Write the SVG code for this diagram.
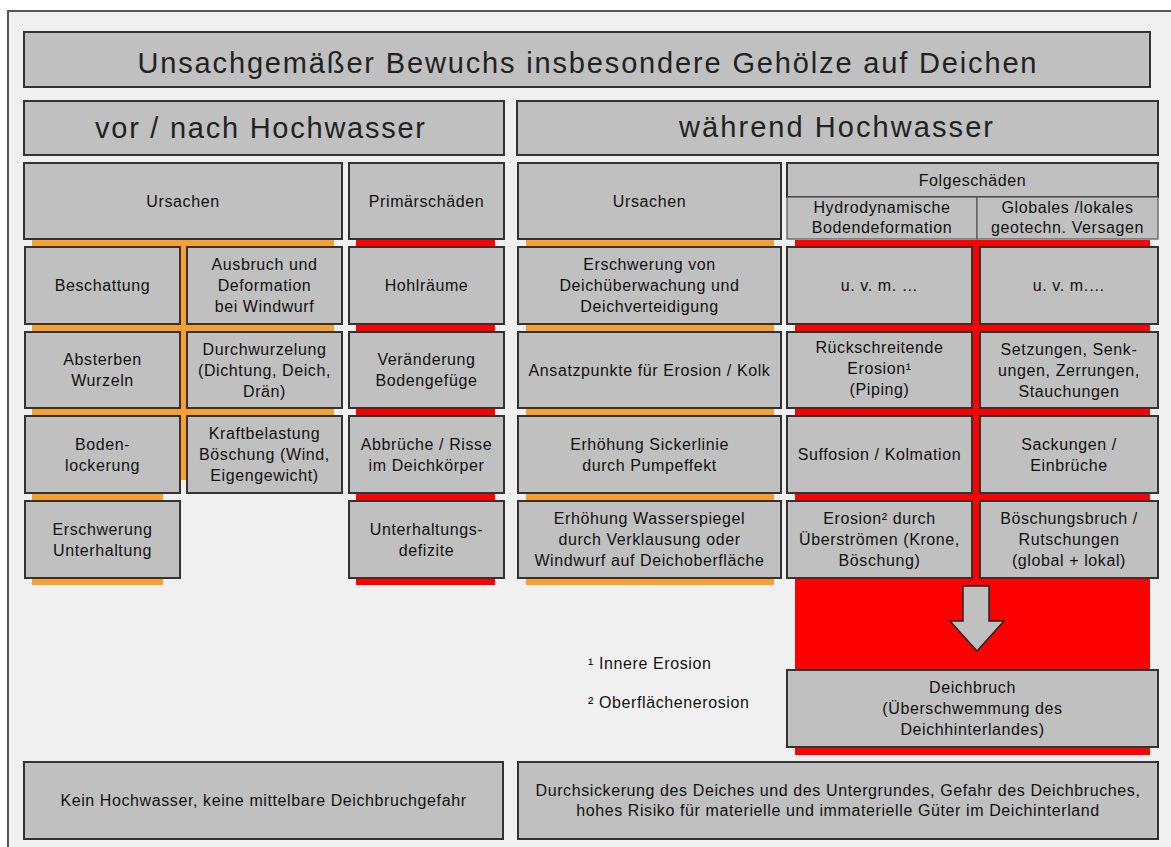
<svg xmlns="http://www.w3.org/2000/svg" width="1171" height="847" viewBox="0 0 1171 847">
<style>
.box{fill:#C0C0C0;stroke:#333;stroke-width:2}
.sub{fill:#C0C0C0;stroke:#555;stroke-width:1.2}
.t{font-family:"Liberation Sans",Arial,sans-serif;font-size:16px;fill:#111;text-anchor:middle;letter-spacing:0.6px}
.fn{font-family:"Liberation Sans",Arial,sans-serif;font-size:16px;fill:#111;text-anchor:start;letter-spacing:0.6px}
.big{font-family:"Liberation Sans",Arial,sans-serif;font-size:29px;fill:#222;text-anchor:middle}
.or{fill:#F7A032}
.rd{fill:#FF0000}
</style>
<rect x="0" y="0" width="1171" height="847" fill="#FFFFFF"/>
<rect x="8" y="11" width="1163" height="836" fill="#F0F0F0"/>
<path d="M8 847 V11 H1171" fill="none" stroke="#555" stroke-width="2"/>

<g id="bars">
<rect class="or" x="32" y="240" width="302" height="175"/>
<rect class="or" x="180" y="415" width="6" height="65"/>
<rect class="or" x="32" y="415" width="131" height="170"/>
<rect class="rd" x="356" y="240" width="139" height="345"/>
<rect class="or" x="526" y="240" width="248" height="345"/>
<rect class="rd" x="795" y="240" width="355" height="515"/>
</g>

<g id="title"><rect class="box" x="24" y="32" width="1126" height="55"/><text class="big" x="587" y="73" textLength="899" lengthAdjust="spacing">Unsachgemäßer Bewuchs insbesondere Gehölze auf Deichen</text></g>
<g id="vor-nach"><rect class="box" x="24" y="101" width="480" height="54"/><text class="big" x="260" y="138" textLength="330" lengthAdjust="spacing">vor / nach Hochwasser</text></g>
<g id="waehrend"><rect class="box" x="517" y="101" width="641" height="54"/><text class="big" x="836" y="137" textLength="314" lengthAdjust="spacing">während Hochwasser</text></g>

<g id="ursachen-l"><rect class="box" x="24" y="163" width="318" height="76"/><text class="t" x="183" y="207">Ursachen</text></g>
<g id="primaer"><rect class="box" x="349" y="163" width="155" height="76"/><text class="t" x="426.5" y="207">Primärschäden</text></g>
<g id="ursachen-r"><rect class="box" x="518" y="163" width="263" height="76"/><text class="t" x="649.5" y="207">Ursachen</text></g>
<g id="folge"><rect class="box" x="787" y="163" width="371" height="34"/><text class="t" x="972.5" y="186">Folgeschäden</text></g>
<g id="hydro"><rect class="sub" x="787" y="197" width="190" height="42"/><text class="t" x="882" y="213">Hydrodynamische</text><text class="t" x="882" y="233">Bodendeformation</text></g>
<g id="global"><rect class="sub" x="977" y="197" width="181" height="42"/><text class="t" x="1067.5" y="213">Globales /lokales</text><text class="t" x="1067.5" y="233">geotechn. Versagen</text></g>

<g id="beschattung"><rect class="box" x="25" y="247" width="155" height="77"/><text class="t" x="102.5" y="291">Beschattung</text></g>
<g id="ausbruch"><rect class="box" x="187" y="247" width="155" height="77"/><text class="t" x="264.5" y="270">Ausbruch und</text><text class="t" x="264.5" y="291">Deformation</text><text class="t" x="264.5" y="312">bei Windwurf</text></g>
<g id="hohlraeume"><rect class="box" x="349" y="247" width="155" height="77"/><text class="t" x="426.5" y="291">Hohlräume</text></g>

<g id="absterben"><rect class="box" x="25" y="332" width="155" height="76"/><text class="t" x="102.5" y="365">Absterben</text><text class="t" x="102.5" y="386">Wurzeln</text></g>
<g id="durchwurzelung"><rect class="box" x="187" y="332" width="155" height="76"/><text class="t" x="264.5" y="354.5">Durchwurzelung</text><text class="t" x="264.5" y="375.5">(Dichtung, Deich,</text><text class="t" x="264.5" y="396.5">Drän)</text></g>
<g id="veraenderung"><rect class="box" x="349" y="332" width="155" height="76"/><text class="t" x="426.5" y="365">Veränderung</text><text class="t" x="426.5" y="386">Bodengefüge</text></g>

<g id="bodenlockerung"><rect class="box" x="25" y="416" width="155" height="77"/><text class="t" x="102.5" y="449.5">Boden-</text><text class="t" x="102.5" y="470.5">lockerung</text></g>
<g id="kraftbelastung"><rect class="box" x="187" y="416" width="155" height="77"/><text class="t" x="264.5" y="439">Kraftbelastung</text><text class="t" x="264.5" y="460">Böschung (Wind,</text><text class="t" x="264.5" y="481">Eigengewicht)</text></g>
<g id="abbrueche"><rect class="box" x="349" y="416" width="155" height="77"/><text class="t" x="426.5" y="449.5">Abbrüche / Risse</text><text class="t" x="426.5" y="470.5">im Deichkörper</text></g>

<g id="erschwerung-u"><rect class="box" x="25" y="501" width="155" height="77"/><text class="t" x="102.5" y="534.5">Erschwerung</text><text class="t" x="102.5" y="555.5">Unterhaltung</text></g>
<g id="unterhaltungsdefizite"><rect class="box" x="349" y="501" width="155" height="77"/><text class="t" x="426.5" y="534.5">Unterhaltungs-</text><text class="t" x="426.5" y="555.5">defizite</text></g>

<g id="erschwerung-d"><rect class="box" x="518" y="247" width="263" height="77"/><text class="t" x="649.5" y="270">Erschwerung von</text><text class="t" x="649.5" y="291">Deichüberwachung und</text><text class="t" x="649.5" y="312">Deichverteidigung</text></g>
<g id="uvm1"><rect class="box" x="787" y="247" width="185" height="77"/><text class="t" x="879.5" y="291">u. v. m. …</text></g>
<g id="uvm2"><rect class="box" x="980" y="247" width="178" height="77"/><text class="t" x="1069" y="291">u. v. m.…</text></g>

<g id="ansatzpunkte"><rect class="box" x="518" y="332" width="263" height="76"/><text class="t" x="649.5" y="375.5">Ansatzpunkte für Erosion / Kolk</text></g>
<g id="rueckschreitende"><rect class="box" x="787" y="332" width="185" height="76"/><text class="t" x="879.5" y="352.5">Rückschreitende</text><text class="t" x="879.5" y="373.5">Erosion¹</text><text class="t" x="879.5" y="394.5">(Piping)</text></g>
<g id="setzungen"><rect class="box" x="980" y="332" width="178" height="76"/><text class="t" x="1069" y="354.5">Setzungen, Senk-</text><text class="t" x="1069" y="375.5">ungen, Zerrungen,</text><text class="t" x="1069" y="396.5">Stauchungen</text></g>

<g id="sickerlinie"><rect class="box" x="518" y="416" width="263" height="77"/><text class="t" x="649.5" y="449.5">Erhöhung Sickerlinie</text><text class="t" x="649.5" y="470.5">durch Pumpeffekt</text></g>
<g id="suffosion"><rect class="box" x="787" y="416" width="185" height="77"/><text class="t" x="879.5" y="460">Suffosion / Kolmation</text></g>
<g id="sackungen"><rect class="box" x="980" y="416" width="178" height="77"/><text class="t" x="1069" y="449.5">Sackungen /</text><text class="t" x="1069" y="470.5">Einbrüche</text></g>

<g id="wasserspiegel"><rect class="box" x="518" y="501" width="263" height="77"/><text class="t" x="649.5" y="524">Erhöhung Wasserspiegel</text><text class="t" x="649.5" y="545">durch Verklausung oder</text><text class="t" x="649.5" y="566">Windwurf auf Deichoberfläche</text></g>
<g id="erosion2"><rect class="box" x="787" y="501" width="185" height="77"/><text class="t" x="879.5" y="524">Erosion² durch</text><text class="t" x="879.5" y="545">Überströmen (Krone,</text><text class="t" x="879.5" y="566">Böschung)</text></g>
<g id="boeschungsbruch"><rect class="box" x="980" y="501" width="178" height="77"/><text class="t" x="1069" y="524">Böschungsbruch /</text><text class="t" x="1069" y="545">Rutschungen</text><text class="t" x="1069" y="566">(global + lokal)</text></g>

<g id="connectors">
<polygon points="963,586 989,586 989,621 1004,621 977,651 950,621 963,621" fill="#C0C0C0" stroke="#222" stroke-width="1.5"/>
</g>

<g id="deichbruch"><rect class="box" x="787" y="670" width="371" height="77"/><text class="t" x="972.5" y="692.5">Deichbruch</text><text class="t" x="972.5" y="713.5">(Überschwemmung des</text><text class="t" x="972.5" y="735">Deichhinterlandes)</text></g>

<g id="footnotes"><text class="fn" x="588" y="668.5">¹ Innere Erosion</text><text class="fn" x="588" y="707.5">² Oberflächenerosion</text></g>

<g id="kein-hochwasser"><rect class="box" x="24" y="762" width="479" height="77"/><text class="t" x="263.5" y="806">Kein Hochwasser, keine mittelbare Deichbruchgefahr</text></g>
<g id="durchsickerung"><rect class="box" x="518" y="762" width="640" height="77"/><text class="t" x="838" y="795.5">Durchsickerung des Deiches und des Untergrundes, Gefahr des Deichbruches,</text><text class="t" x="838" y="815.5">hohes Risiko für materielle und immaterielle Güter im Deichinterland</text></g>
</svg>
